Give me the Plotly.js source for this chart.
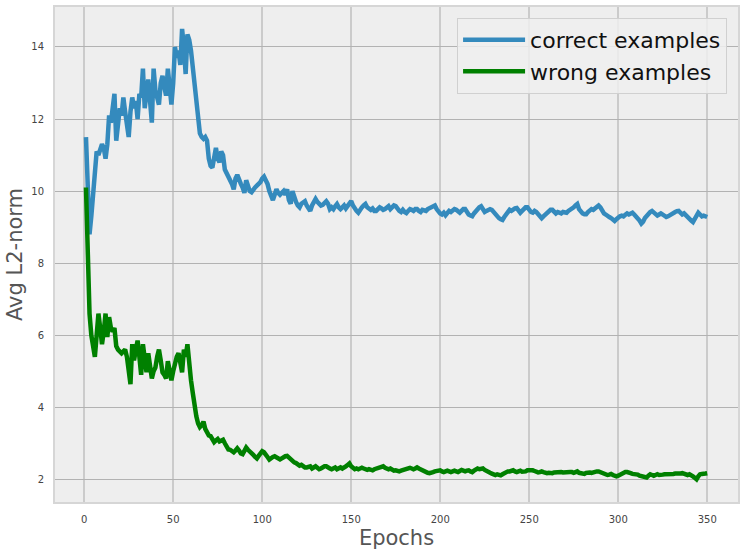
<!DOCTYPE html>
<html>
<head>
<meta charset="utf-8">
<script src="https://cdn.plot.ly/plotly-3.0.1.min.js"></script>
<style>
  body { margin: 0; background: #ffffff; }
  #chart { width: 747px; height: 554px; }
</style>
</head>
<body>
<div id="chart"></div>
<script>
// avg L2-norm per epoch (epochs 1..350)
var correct_norm = [
  11.5, 10.2, 8.8, 9.3, 9.8, 10.3, 11.1, 11.0, 11.2, 11.3,
  11.2, 10.9, 11.3, 12.1, 11.9, 12.4, 12.7, 11.4, 11.9, 12.3,
  12.1, 12.6, 12.2, 11.8, 11.5, 12.2, 12.6, 12.3, 12.5, 12.0,
  12.7, 12.6, 13.4, 12.3, 12.7, 13.1, 12.5, 11.9, 13.4, 12.8,
  12.6, 12.4, 13.0, 13.2, 12.9, 12.65, 13.4, 12.9, 12.4, 13.0,
  14.0, 13.7, 13.9, 13.5, 14.5, 14.0, 13.25, 14.35, 14.2, 13.9,
  13.4, 12.9, 12.4, 12.0, 11.6, 11.5, 11.45, 11.5, 11.4, 10.9,
  10.7, 10.65, 10.9, 11.2, 10.9, 10.8, 11.1, 11.0, 10.6, 10.5,
  10.45, 10.3, 10.2, 10.05, 10.35, 10.45, 10.3, 10.2, 10.1, 9.95,
  10.3, 10.15, 10.0, 9.97, 10.05, 10.1, 10.15, 10.2, 10.25, 10.35,
  10.4, 10.3, 10.2, 10.0, 9.85, 9.75, 9.9, 10.05, 9.95, 9.9,
  9.95, 10.0, 9.9, 10.05, 9.75, 9.65, 10.0, 9.8, 9.7, 9.6,
  9.55, 9.65, 9.7, 9.72, 9.6, 9.5, 9.45, 9.6, 9.7, 9.78,
  9.7, 9.65, 9.6, 9.62, 9.68, 9.72, 9.65, 9.5, 9.55, 9.5,
  9.58, 9.64, 9.55, 9.5, 9.55, 9.6, 9.52, 9.58, 9.65, 9.72,
  9.6, 9.5, 9.45, 9.4, 9.5, 9.55, 9.6, 9.64, 9.55, 9.5,
  9.48, 9.52, 9.45, 9.45, 9.5, 9.55, 9.52, 9.48, 9.5, 9.55,
  9.58, 9.5, 9.55, 9.6, 9.58, 9.5, 9.45, 9.42, 9.48, 9.42,
  9.39, 9.45, 9.5, 9.48, 9.45, 9.5, 9.5, 9.45, 9.42, 9.48,
  9.45, 9.45, 9.5, 9.52, 9.55, 9.58, 9.6, 9.5, 9.42, 9.38,
  9.35, 9.4, 9.33, 9.4, 9.45, 9.42, 9.45, 9.5, 9.48, 9.42,
  9.4, 9.45, 9.5, 9.5, 9.42, 9.35, 9.32, 9.3, 9.38, 9.45,
  9.5, 9.55, 9.58, 9.5, 9.42, 9.45, 9.48, 9.5, 9.48, 9.42,
  9.35, 9.3, 9.25, 9.22, 9.2, 9.28, 9.35, 9.42, 9.48, 9.45,
  9.5, 9.52, 9.53, 9.45, 9.4, 9.45, 9.5, 9.55, 9.55, 9.48,
  9.42, 9.4, 9.45, 9.42, 9.35, 9.3, 9.25, 9.3, 9.35, 9.4,
  9.45, 9.48, 9.48, 9.42, 9.38, 9.42, 9.4, 9.38, 9.42, 9.4,
  9.4, 9.45, 9.48, 9.5, 9.55, 9.6, 9.64, 9.5, 9.42, 9.38,
  9.36, 9.36, 9.42, 9.45, 9.5, 9.48, 9.52, 9.55, 9.6, 9.55,
  9.45, 9.38, 9.35, 9.3, 9.28, 9.25, 9.2, 9.17, 9.22, 9.28,
  9.3, 9.32, 9.3, 9.34, 9.38, 9.35, 9.38, 9.4, 9.35, 9.3,
  9.25, 9.18, 9.1, 9.15, 9.25, 9.32, 9.38, 9.42, 9.45, 9.4,
  9.35, 9.32, 9.35, 9.38, 9.35, 9.3, 9.28, 9.3, 9.34, 9.38,
  9.4, 9.42, 9.44, 9.45, 9.4, 9.35, 9.38, 9.32, 9.28, 9.22,
  9.18, 9.14, 9.25, 9.35, 9.4, 9.35, 9.3, 9.32, 9.3, 9.28
];

var wrong_norm = [
  10.1, 8.0, 6.6, 6.0, 5.6, 5.4, 6.0, 6.6, 6.2, 5.75,
  6.1, 6.6, 5.95, 6.5, 6.2, 6.1, 6.2, 5.7, 5.6, 5.55,
  5.5, 5.55, 5.6, 5.4, 5.1, 4.64, 5.75, 5.3, 5.6, 5.85,
  5.4, 4.9, 5.75, 5.3, 4.97, 5.5, 5.2, 4.8, 5.0, 5.1,
  5.4, 5.6, 5.3, 4.97, 4.9, 4.8, 5.28, 5.0, 4.75, 5.0,
  5.25, 5.4, 5.5, 5.2, 4.97, 5.6, 5.4, 5.75, 5.15, 4.75,
  4.4, 4.0, 3.75, 3.55, 3.45, 3.5, 3.6, 3.4, 3.3, 3.22,
  3.2, 3.08, 3.03, 3.08, 3.12, 3.05, 3.08, 3.1, 3.0, 2.9,
  2.83, 2.82, 2.78, 2.75, 2.8, 2.86, 2.8, 2.72, 2.7, 2.8,
  2.88, 2.82, 2.78, 2.75, 2.68, 2.62, 2.58, 2.65, 2.72, 2.78,
  2.75, 2.7, 2.62, 2.55, 2.6, 2.62, 2.64, 2.6, 2.56, 2.55,
  2.58, 2.62, 2.64, 2.65, 2.6, 2.58, 2.52, 2.47, 2.45, 2.4,
  2.38, 2.4, 2.36, 2.33, 2.33, 2.35, 2.36, 2.3, 2.34, 2.36,
  2.32, 2.28, 2.3, 2.34, 2.36, 2.36, 2.32, 2.3, 2.28, 2.3,
  2.33, 2.28, 2.3, 2.33, 2.3, 2.32, 2.36, 2.4, 2.44, 2.36,
  2.3, 2.28, 2.3, 2.28, 2.3, 2.32, 2.3, 2.28, 2.26, 2.28,
  2.25, 2.25, 2.28, 2.3, 2.32, 2.33, 2.35, 2.36, 2.32, 2.3,
  2.28, 2.3, 2.26, 2.24, 2.25, 2.23, 2.22, 2.24, 2.26, 2.25,
  2.28, 2.3, 2.32, 2.3, 2.28, 2.3, 2.33, 2.3, 2.27, 2.25,
  2.22, 2.2, 2.18, 2.17, 2.17, 2.2, 2.22, 2.24, 2.25, 2.25,
  2.22, 2.2, 2.22, 2.24, 2.22, 2.2, 2.22, 2.24, 2.22, 2.2,
  2.23, 2.26, 2.24, 2.22, 2.24, 2.25, 2.22, 2.2, 2.24, 2.27,
  2.3, 2.28, 2.3, 2.3, 2.26, 2.22, 2.2, 2.18, 2.16, 2.14,
  2.12, 2.14, 2.12, 2.11, 2.14, 2.18, 2.2, 2.22, 2.22, 2.24,
  2.25, 2.22, 2.2, 2.22, 2.24, 2.21, 2.2, 2.22, 2.25, 2.26,
  2.25, 2.25, 2.23, 2.2, 2.19, 2.2, 2.22, 2.2, 2.18, 2.17,
  2.18, 2.17, 2.17, 2.19, 2.2, 2.21, 2.22, 2.2, 2.19, 2.2,
  2.21, 2.2, 2.2, 2.2, 2.18, 2.2, 2.22, 2.18, 2.16, 2.14,
  2.15, 2.18, 2.2, 2.19, 2.18, 2.2, 2.21, 2.22, 2.22, 2.2,
  2.17, 2.15, 2.14, 2.12, 2.13, 2.15, 2.12, 2.09, 2.08, 2.1,
  2.13, 2.16, 2.18, 2.2, 2.2, 2.2, 2.17, 2.15, 2.14, 2.16,
  2.13, 2.1, 2.08, 2.07, 2.06, 2.05, 2.1, 2.14, 2.12, 2.1,
  2.12, 2.14, 2.12, 2.11, 2.13, 2.14, 2.14, 2.12, 2.12, 2.14,
  2.15, 2.16, 2.15, 2.14, 2.16, 2.17, 2.15, 2.13, 2.12, 2.14,
  2.12, 2.08, 2.04, 2.0, 2.08, 2.14, 2.15, 2.14, 2.16, 2.17
];

var series_names = ['correct examples', 'wrong examples'];
var series_colors = ['#348ABD', '#008000'];

var epochs = correct_norm.map((v, i) => i + 1);

var trace_correct = {
  x: epochs,
  y: correct_norm,
  type: 'scatter',
  mode: 'lines',
  name: series_names[0],
  line: {color: series_colors[0], width: 4.5}
};

var trace_wrong = {
  x: epochs,
  y: wrong_norm,
  type: 'scatter',
  mode: 'lines',
  name: series_names[1],
  line: {color: series_colors[1], width: 4.5}
};

var layout = {
  width: 747,
  height: 554,
  margin: {l: 55, r: 9, t: 7, b: 52},
  paper_bgcolor: '#ffffff',
  plot_bgcolor: '#eeeeee',
  font: {family: 'DejaVu Sans', color: '#555555'},
  showlegend: true,
  legend: {
    x: 0.984, y: 0.978, xanchor: 'right', yanchor: 'top',
    bgcolor: 'rgba(238,238,238,0.85)',
    bordercolor: '#d0d0d0', borderwidth: 1,
    font: {size: 22, color: '#111111'},
    itemwidth: 62,
    tracegroupgap: 4
  },
  xaxis: {
    range: [-16.4, 367.3],
    tickvals: [0, 50, 100, 150, 200, 250, 300, 350],
    ticks: 'outside', ticklen: 7, tickcolor: 'rgba(0,0,0,0)',
    tickfont: {size: 10, color: '#444444'},
    showgrid: true, gridcolor: '#cbcbcb', gridwidth: 1.5,
    zeroline: false,
    showline: true, mirror: true, linecolor: '#d6d6d6', linewidth: 2,
    title: {text: 'Epochs', font: {size: 21, color: '#555555'}, standoff: 6}
  },
  yaxis: {
    range: [1.37, 15.11],
    tickvals: [2, 4, 6, 8, 10, 12, 14],
    ticks: 'outside', ticklen: 7, tickcolor: 'rgba(0,0,0,0)',
    tickfont: {size: 10, color: '#444444'},
    showgrid: true, gridcolor: '#b2b2b2', gridwidth: 1,
    zeroline: false,
    showline: true, mirror: true, linecolor: '#d6d6d6', linewidth: 2,
    title: {text: 'Avg L2-norm', font: {size: 21, color: '#555555'}, standoff: 3}
  }
};

Plotly.newPlot('chart', [trace_correct, trace_wrong], layout, {displayModeBar: false});
</script>
</body>
</html>
